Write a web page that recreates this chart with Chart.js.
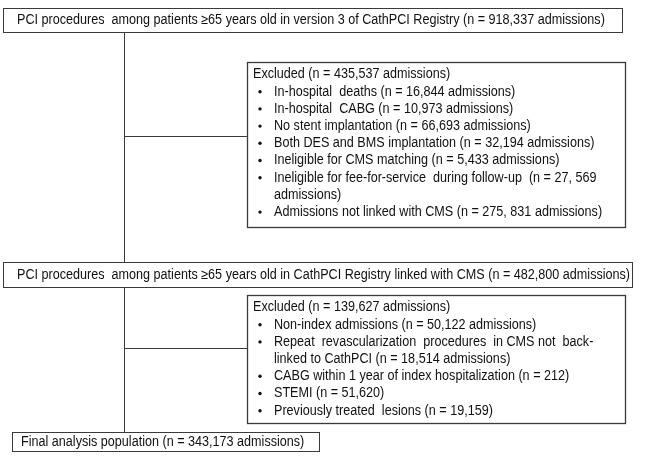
<!DOCTYPE html>
<html>
<head>
<meta charset="utf-8">
<script src="https://cdn.jsdelivr.net/npm/chart.js@4.4.1/dist/chart.umd.min.js"></script>
<style>
  html, body { margin: 0; padding: 0; background: #fff; }
  #wrap { width: 649px; height: 465px; position: relative; }
</style>
</head>
<body>
<div id="wrap"><canvas id="flowChart"></canvas></div>
<script>
// flow steps (text only)
var stepTitles = [
    'PCI procedures  among patients \u226565 years old in version 3 of CathPCI Registry (n = 918,337 admissions)',
    'PCI procedures  among patients \u226565 years old in CathPCI Registry linked with CMS (n = 482,800 admissions)',
    'Final analysis population (n = 343,173 admissions)'
];

var excludedTitles = [
    'Excluded (n = 435,537 admissions)',
    'Excluded (n = 139,627 admissions)'
];

// each bullet is a list of wrapped lines
var excludedItems1 = [
    ['In-hospital  deaths (n = 16,844 admissions)'],
    ['In-hospital  CABG (n = 10,973 admissions)'],
    ['No stent implantation (n = 66,693 admissions)'],
    ['Both DES and BMS implantation (n = 32,194 admissions)'],
    ['Ineligible for CMS matching (n = 5,433 admissions)'],
    ['Ineligible for fee-for-service  during follow-up  (n = 27, 569', 'admissions)'],
    ['Admissions not linked with CMS (n = 275, 831 admissions)']
];

var excludedItems2 = [
    ['Non-index admissions (n = 50,122 admissions)'],
    ['Repeat  revascularization  procedures  in CMS not  back-', 'linked to CathPCI (n = 18,514 admissions)'],
    ['CABG within 1 year of index hospitalization (n = 212)'],
    ['STEMI (n = 51,620)'],
    ['Previously treated  lesions (n = 19,159)']
];

// layout (in chart units, mapped through the hidden scales)
var mainBoxes = [
    { x0: 3, x1: 622, y0: 8, y1: 32 },
    { x0: 3, x1: 632, y0: 262, y1: 287 },
    { x0: 12, x1: 319, y0: 432, y1: 451 }
];
var exclBoxes = [
    { x0: 247, x1: 625, y0: 62, y1: 227, link: 136 },
    { x0: 247, x1: 625, y0: 295, y1: 423, link: 348 }
];
var stemX = 124;
var lineStep = 17.2;
var fontFamily = '"Liberation Sans", Arial, sans-serif';
var squeeze = 0.9;

var flowPlugin = {
    id: 'flowPlugin',
    afterDraw: function (chart) {
        var ctx = chart.ctx;
        var sx = chart.scales.x, sy = chart.scales.y;
        function px(v) { return sx.getPixelForValue(v); }
        function py(v) { return sy.getPixelForValue(v); }

        function text(str, x, y) {
            ctx.save();
            ctx.translate(px(x), py(y));
            ctx.scale(squeeze, 1);
            ctx.fillText(str, 0, 0);
            ctx.restore();
        }

        ctx.save();
        ctx.strokeStyle = '#3a3a3a';
        ctx.lineWidth = 1;
        ctx.fillStyle = '#111';
        ctx.font = '14px ' + fontFamily;
        ctx.textBaseline = 'middle';

        // stem lines
        ctx.beginPath();
        ctx.moveTo(px(stemX) + 0.5, py(mainBoxes[0].y1));
        ctx.lineTo(px(stemX) + 0.5, py(mainBoxes[1].y0));
        ctx.moveTo(px(stemX) + 0.5, py(mainBoxes[1].y1));
        ctx.lineTo(px(stemX) + 0.5, py(mainBoxes[2].y0));
        exclBoxes.forEach(function (b) {
            ctx.moveTo(px(stemX), py(b.link) + 0.5);
            ctx.lineTo(px(b.x0), py(b.link) + 0.5);
        });
        ctx.stroke();

        // main boxes
        mainBoxes.forEach(function (b, i) {
            ctx.strokeRect(px(b.x0) + 0.5, py(b.y0) + 0.5, px(b.x1) - px(b.x0), py(b.y1) - py(b.y0));
            text(stepTitles[i], b.x0 + (i === 2 ? 9 : 14), (b.y0 + b.y1) / 2 + 0.5);
        });

        // excluded boxes
        var lists = [excludedItems1, excludedItems2];
        exclBoxes.forEach(function (b, i) {
            ctx.lineWidth = 1.3;
            ctx.strokeRect(px(b.x0) + 0.5, py(b.y0) + 0.5, px(b.x1) - px(b.x0), py(b.y1) - py(b.y0));
            var y = b.y0 + 12.5;
            text(excludedTitles[i], b.x0 + 6, y);
            lists[i].forEach(function (item) {
                y += lineStep;
                ctx.beginPath();
                ctx.arc(px(b.x0 + 13), py(y), 1.7, 0, Math.PI * 2);
                ctx.fill();
                item.forEach(function (ln, k) {
                    if (k > 0) y += lineStep;
                    text(ln, b.x0 + 27, y);
                });
            });
        });
        ctx.restore();
    }
};

new Chart(document.getElementById('flowChart').getContext('2d'), {
    type: 'scatter',
    data: { datasets: [{ data: [], pointRadius: 0 }] },
    options: {
        responsive: true,
        maintainAspectRatio: false,
        animation: false,
        layout: { padding: 0 },
        plugins: { legend: { display: false }, tooltip: { enabled: false } },
        scales: {
            x: { type: 'linear', min: 0, max: 649, display: false },
            y: { type: 'linear', min: 0, max: 465, reverse: true, display: false }
        }
    },
    plugins: [flowPlugin]
});
</script>
</body>
</html>
